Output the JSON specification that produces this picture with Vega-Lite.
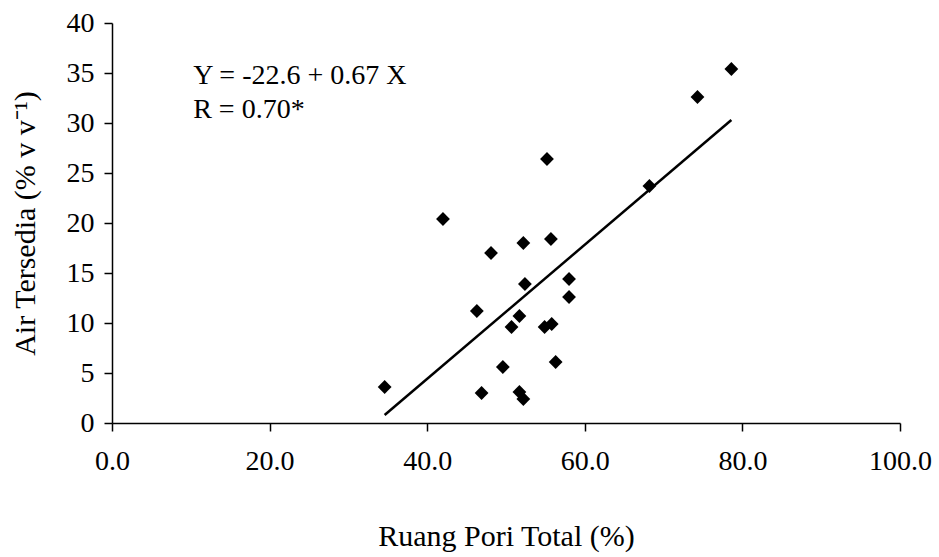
{
  "$schema": "https://vega.github.io/schema/vega-lite/v6.json",
  "width": 788,
  "height": 400,
  "autosize": {"type": "none"},
  "padding": {"left": 112, "top": 23, "right": 39, "bottom": 134},
  "background": "white",
  "config": {
    "view": {"stroke": null},
    "font": "Liberation Serif",
    "axis": {
      "grid": false,
      "domainColor": "black",
      "domainWidth": 1.5,
      "tickColor": "black",
      "tickWidth": 1.5,
      "tickSize": 8,
      "labelColor": "black",
      "titleColor": "black",
      "labelFont": "Liberation Serif",
      "titleFont": "Liberation Serif",
      "labelFontSize": 28,
      "titleFontSize": 30,
      "titleFontWeight": "normal",
      "labelFlush": false
    }
  },
  "datasets": {
    "points": [
      {"x": 55.2, "y": 26.4},
      {"x": 42.0, "y": 20.4},
      {"x": 48.1, "y": 17.0},
      {"x": 52.2, "y": 18.0},
      {"x": 55.7, "y": 18.4},
      {"x": 58.0, "y": 14.4},
      {"x": 58.0, "y": 12.6},
      {"x": 52.4, "y": 13.9},
      {"x": 46.3, "y": 11.2},
      {"x": 51.7, "y": 10.7},
      {"x": 50.7, "y": 9.6},
      {"x": 54.9, "y": 9.6},
      {"x": 55.8, "y": 9.9},
      {"x": 49.6, "y": 5.6},
      {"x": 56.3, "y": 6.1},
      {"x": 34.6, "y": 3.6},
      {"x": 46.9, "y": 3.0},
      {"x": 51.7, "y": 3.1},
      {"x": 52.2, "y": 2.4},
      {"x": 78.6, "y": 35.4},
      {"x": 74.3, "y": 32.6},
      {"x": 68.2, "y": 23.7}
    ],
    "fit": [
      {"x": 34.6, "y": 0.8},
      {"x": 78.6, "y": 30.3}
    ],
    "notes": [
      {"x": 10.3, "y": 33.9, "label": "Y = -22.6 + 0.67 X"},
      {"x": 10.3, "y": 30.5, "label": "R = 0.70*"}
    ]
  },
  "layer": [
    {
      "data": {"name": "fit"},
      "mark": {"type": "line", "color": "black", "strokeWidth": 2.5},
      "encoding": {
        "x": {
          "field": "x", "type": "quantitative",
          "scale": {"domain": [0, 100], "nice": false},
          "axis": {
            "title": "Ruang Pori Total (%)",
            "values": [0, 20, 40, 60, 80, 100],
            "format": ".1f",
            "labelPadding": 16,
            "titlePadding": 46
          }
        },
        "y": {
          "field": "y", "type": "quantitative",
          "scale": {"domain": [0, 40], "nice": false},
          "axis": {
            "title": "Air Tersedia (% v v⁻¹)",
            "values": [0, 5, 10, 15, 20, 25, 30, 35, 40],
            "labelPadding": 10,
            "titlePadding": 26
          }
        }
      }
    },
    {
      "data": {"name": "points"},
      "mark": {"type": "point", "shape": "diamond", "filled": true, "color": "black", "opacity": 1, "size": 190},
      "encoding": {
        "x": {"field": "x", "type": "quantitative"},
        "y": {"field": "y", "type": "quantitative"}
      }
    },
    {
      "data": {"name": "notes"},
      "mark": {"type": "text", "align": "left", "baseline": "alphabetic", "font": "Liberation Serif", "fontSize": 28, "color": "black"},
      "encoding": {
        "x": {"field": "x", "type": "quantitative"},
        "y": {"field": "y", "type": "quantitative"},
        "text": {"field": "label"}
      }
    }
  ]
}
